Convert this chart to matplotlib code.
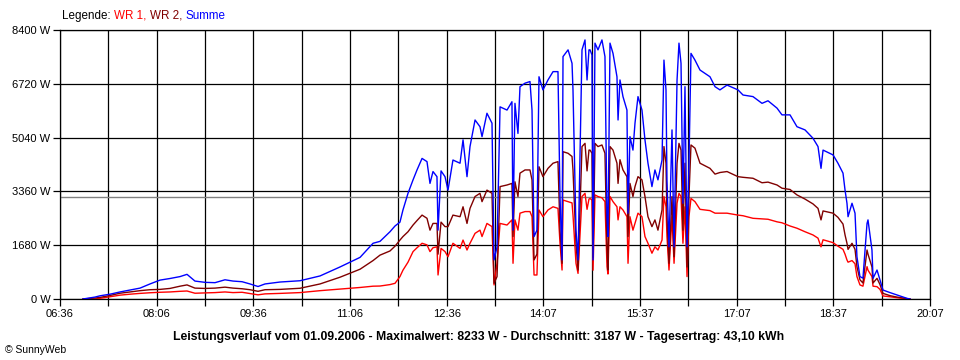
import numpy as np
import matplotlib
matplotlib.use("Agg")
import matplotlib.pyplot as plt

plt.rcParams['font.family'] = ['Liberation Sans', 'DejaVu Sans']

# time in minutes after midnight
t_min = [417.4, 428.6, 433.3, 442.6, 451.9, 461.3, 470.6, 479.9, 489.2, 498.5,
         507.9, 514.4, 521.8, 531.2, 540.5, 549.8, 557.3, 565.7, 573.1, 580.6,
         587.1, 601.1, 619.7, 638.4, 657.0, 675.7, 687.8, 694.3, 703.6, 708.3,
         712.9, 715.7, 720.4, 725.1, 728.8, 733.5, 738.1, 740.9, 743.7, 747.4,
         748.4, 751.2, 754.9, 757.7, 762.3, 768.9, 771.7, 775.4, 778.2, 782.9,
         787.5, 789.4, 794.0, 798.7, 800.6, 803.4, 806.2, 812.7, 817.3, 818.3,
         820.1, 822.9, 824.8, 829.5, 834.1, 836.0, 837.9, 840.6, 842.5, 846.2,
         850.9, 855.6, 860.2, 862.1, 864.0, 864.9, 869.6, 873.3, 874.2, 877.0,
         878.9, 882.6, 885.4, 887.3, 889.1, 890.1, 891.9, 892.9, 894.7, 897.5,
         901.2, 904.0, 905.9, 906.8, 908.7, 911.5, 915.2, 916.2, 918.0, 920.8,
         924.5, 925.5, 927.3, 930.1, 932.0, 934.8, 938.5, 941.3, 944.1, 947.8,
         950.6, 953.4, 957.2, 959.0, 960.9, 961.8, 963.7, 966.5, 968.4, 971.2,
         973.0, 974.9, 976.7, 978.6, 980.5, 982.3, 984.2, 987.9, 992.6, 1001.9,
         1006.6, 1011.2, 1017.8, 1028.0, 1032.7, 1042.0, 1050.4, 1056.0, 1064.4, 1069.0,
         1076.5, 1083.0, 1090.5, 1097.9, 1102.6, 1105.4, 1107.3, 1116.6, 1121.2, 1125.9,
         1127.8, 1129.6, 1130.6, 1134.3, 1137.1, 1138.9, 1141.7, 1144.5, 1148.3, 1149.2,
         1152.9, 1153.9, 1157.6, 1160.4, 1163.2, 1169.7, 1176.2, 1185.6, 1188.4]

summe = [0, 60, 100, 150, 220, 280, 340, 470, 590, 640,
         700, 770, 560, 520, 510, 600, 560, 540, 470, 390,
         470, 530, 570, 720, 1000, 1300, 1740, 1800, 2100, 2280,
         2400, 2780, 3300, 3720, 4030, 4390, 4290, 3610, 3980, 3820,
         2150, 4000, 3820, 3400, 4340, 4240, 4970, 3820, 4760, 5590,
         5380, 5070, 5800, 5490, 1220, 1630, 6000, 5900, 6160, 2150,
         6110, 5170, 6630, 6740, 6790, 5900, 1950, 2150, 6940, 6530,
         6840, 7100, 7100, 3200, 1220, 7570, 7780, 7360, 6530, 2150,
         1220, 7780, 8090, 6840, 7780, 7780, 7620, 1220, 7990, 7780,
         8090, 7570, 2570, 1950, 7990, 7670, 6940, 5590, 6840, 6320,
         5900, 2680, 5070, 4650, 5490, 6320, 5900, 4970, 4240, 3510,
         4030, 3720, 4340, 7460, 6530, 3720, 1630, 5280, 1630, 6840,
         7990, 7360, 2990, 6630, 1630, 4240, 7670, 7460, 7150, 6940,
         6630, 6530, 6680, 6530, 6370, 6320, 6110, 6190, 5960, 5750,
         5750, 5380, 5280, 5020, 4760, 4080, 4650, 4500, 4240, 3930,
         3400, 2990, 2570, 2990, 2680, 1320, 700, 650, 2360, 2470,
         1530, 645, 905, 590, 280, 200, 125, 20, 0]

wr2 = [0, 30, 50, 110, 180, 220, 260, 290, 300, 330,
       400, 440, 340, 330, 340, 370, 340, 320, 290, 240,
       290, 300, 335, 470, 680, 930, 1200, 1370, 1500, 1650,
       1840, 1950, 2100, 2310, 2450, 2620, 2520, 2150, 2360, 2360,
       1400, 2400, 2260, 2260, 2620, 2570, 2880, 2360, 2830, 3200,
       3300, 3040, 3400, 3300, 490, 700, 3510, 3560, 3610, 1950,
       3660, 3200, 3930, 4030, 4030, 3720, 1220, 1400, 4130, 3820,
       4080, 4240, 4290, 2150, 1115, 4600, 4550, 4450, 4030, 1740,
       905, 4760, 4860, 4000, 4650, 4650, 4550, 1300, 4860, 4760,
       4810, 4550, 1630, 905, 4760, 4650, 4240, 3610, 4350, 4030,
       3820, 1950, 3610, 3200, 3510, 3820, 3720, 3200, 2570, 2260,
       2470, 2150, 2780, 4760, 4240, 2570, 1115, 3200, 1320, 4240,
       4860, 4650, 2150, 4240, 1000, 3200, 4810, 4710, 4240, 4080,
       3900, 3950, 3980, 3820, 3800, 3770, 3630, 3650, 3560, 3460,
       3420, 3250, 3120, 2970, 2830, 2470, 2750, 2680, 2550, 2340,
       2000, 1740, 1550, 1740, 1550, 1010, 600, 500, 1530, 1400,
       1000, 500, 645, 450, 175, 105, 60, 10, 0]

wr1 = [0, 0, 20, 70, 120, 150, 175, 195, 210, 220,
       240, 250, 180, 190, 200, 220, 200, 210, 170, 130,
       160, 175, 200, 260, 310, 360, 400, 405, 450, 490,
       700, 900, 1150, 1480, 1600, 1740, 1690, 1480, 1600, 1630,
       750, 1580, 1480, 1320, 1740, 1580, 1840, 1530, 1740, 2050,
       2150, 1950, 2360, 2260, 440, 1115, 2360, 2310, 2470, 1115,
       2470, 2150, 2680, 2730, 2730, 2570, 750, 750, 2780, 2570,
       2780, 2880, 2830, 1740, 905, 3090, 3040, 3000, 2620, 1115,
       800, 3200, 3300, 2800, 3120, 3140, 3090, 900, 3250, 3200,
       3160, 3040, 1010, 780, 3200, 3040, 2880, 2470, 2880, 2780,
       2570, 1115, 2570, 2150, 2360, 2680, 2570, 1950, 1740, 1430,
       1630, 1530, 1840, 3200, 2880, 1950, 905, 2570, 1115, 2990,
       3300, 3200, 1740, 2880, 700, 2570, 3140, 3040, 2800, 2760,
       2680, 2680, 2680, 2620, 2600, 2520, 2500, 2490, 2410, 2380,
       2280, 2210, 2100, 2000, 1900, 1630, 1850, 1760, 1650, 1550,
       1400, 1220, 1150, 1200, 1100, 700, 440, 400, 1010, 900,
       700, 400, 385, 300, 95, 70, 40, 5, 0]

durchschnitt = 3187
y_ticks = [0, 1680, 3360, 5040, 6720, 8400]
t_start, t_end = "06:36", "20:07"
title_text = ("Leistungsverlauf vom 01.09.2006 - Maximalwert: 8233 W - "
              "Durchschnitt: 3187 W - Tagesertrag: 43,10 kWh")


def to_min(s):
    h, m = s.split(":")
    return int(h) * 60 + int(m)


def fmt(m):
    m = int(round(m))
    return "%02d:%02d" % (m // 60, m % 60)


t0, t1 = to_min(t_start), to_min(t_end)
grid_x = np.linspace(t0, t1, 19)

fig = plt.figure(figsize=(9.6, 3.6), dpi=100)
ax = fig.add_axes([60 / 960, 61 / 360, 870 / 960, 269 / 360])

ax.plot(t_min, wr1, color="#ff0000", lw=1.0, zorder=3)
ax.plot(t_min, wr2, color="#800000", lw=1.0, zorder=4)
ax.plot(t_min, summe, color="#0000ff", lw=1.0, zorder=5)
ax.axhline(durchschnitt, color="#808080", lw=1.0, zorder=2)

ax.set_xlim(t0, t1)
ax.set_ylim(0, y_ticks[-1])
ax.set_xticks(grid_x)
ax.set_xticklabels([fmt(v) if i % 2 == 0 else "" for i, v in enumerate(grid_x)])
ax.set_yticks(y_ticks)
ax.set_yticklabels(["%d W" % v for v in y_ticks])
ax.grid(True, color="black", lw=0.9, zorder=1)
ax.set_axisbelow(True)
ax.tick_params(axis="both", direction="out", length=5, width=0.9, color="black",
               labelsize=8, pad=2)
for s in ax.spines.values():
    s.set_color("black")
    s.set_linewidth(0.9)

# coloured legend line
fig.canvas.draw()
renderer = fig.canvas.get_renderer()
x = 62 / 960
for part, col in [("Legende: ", "black"), ("WR 1, ", "#ff0000"),
                  ("WR 2, ", "#800000"), ("Summe", "#0000ff")]:
    txt = fig.text(x, 1 - 16 / 360, part, color=col, fontsize=8.4, va="center", ha="left")
    bb = txt.get_window_extent(renderer)
    x += bb.width / fig.bbox.width

fig.text(479 / 960, 1 - 337 / 360, title_text, fontsize=8.8, fontweight="bold",
         ha="center", va="center")
fig.text(5 / 960, 1 - 350 / 360, "\u00a9 SunnyWeb", fontsize=7.5, ha="left", va="center")

fig.savefig("out.png", dpi=100)
